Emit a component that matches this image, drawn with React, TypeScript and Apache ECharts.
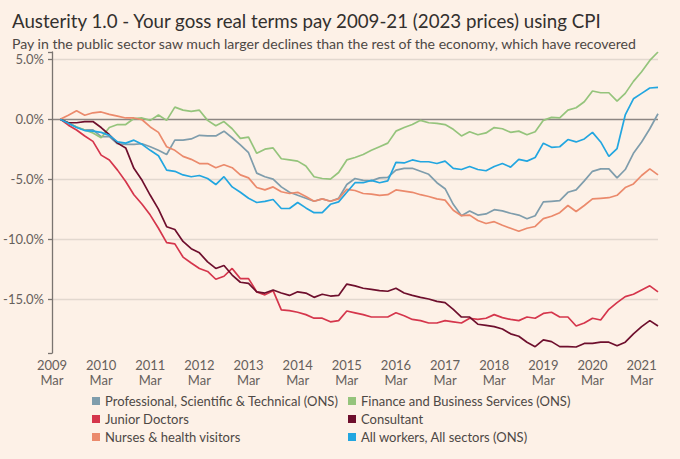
import React, { useEffect, useRef } from "react";
import * as echarts from "echarts";

// Bi-monthly periods starting 2009 Mar (index 0) to 2021 Jul (index 74)
const MONTH_NAMES = ["Mar", "May", "Jul", "Sep", "Nov", "Jan"];
const START_YEAR = 2009;
const N_PERIODS = 75;
const periods: string[] = [];
for (let i = 0; i < N_PERIODS; i++) {
  const m = MONTH_NAMES[i % 6];
  const y = START_YEAR + Math.floor(i / 6) + (m === "Jan" ? 1 : 0);
  periods.push(y + "\n" + m);
}

const professional = [
  null, 0, -0.35, -0.65, -0.9, -0.9, -1.45, -1.45, -2.05, -2.1, -2.1, -2.05, -2.3, -2.6, -2.95,
  -1.75, -1.75, -1.65, -1.35, -1.4, -1.4, -1.0, -1.55, -2.15, -2.8, -4.5, -4.8, -5.0, -5.65, -6.1,
  -6.35, -6.6, -6.85, -6.65, -6.85, -6.6, -5.45, -4.95, -5.1, -5.15, -4.9, -4.85, -4.25, -4.1, -4.1,
  -4.35, -4.6, -5.3, -5.8, -7.1, -8.05, -7.65, -8.0, -7.9, -7.55, -7.65, -7.85, -8.0, -8.3, -8.05,
  -6.9, -6.85, -6.8, -6.1, -5.9, -5.15, -4.35, -4.15, -4.15, -4.9, -4.2, -2.85, -1.9, -0.8, 0.45,
];
const finance = [
  null, 0, -0.3, -0.65, -0.9, -1.15, -1.55, -0.7, -0.45, -0.45, 0.05, 0.1, -0.1, 0.35, -0.1,
  1.0, 0.75, 0.65, 0.75, -0.1, -0.55, -0.2, -0.8, -1.6, -1.5, -2.85, -2.5, -2.4, -3.3, -3.4,
  -3.5, -3.9, -4.8, -4.95, -5.0, -4.45, -3.4, -3.2, -2.95, -2.6, -2.3, -2.0, -1.0, -0.7, -0.45,
  -0.1, -0.3, -0.35, -0.45, -0.85, -1.4, -1.05, -1.3, -1.15, -0.7, -0.8, -1.1, -1.0, -1.3, -1.05,
  -0.1, 0.15, 0.1, 0.75, 0.95, 1.45, 2.35, 2.2, 2.2, 1.5, 2.15, 3.15, 3.95, 4.9, 5.6,
];
const juniorDoctors = [
  null, 0, -0.5, -0.9, -1.4, -1.85, -3.0, -3.4, -4.25, -5.2, -6.3, -7.1, -8.0, -9.1, -10.3,
  -10.4, -11.5, -12.0, -12.45, -12.7, -13.35, -13.1, -12.45, -13.3, -13.3, -14.4, -14.65, -14.3, -15.9, -15.97,
  -16.1, -16.3, -16.6, -16.6, -16.9, -16.8, -16.0, -16.15, -16.3, -16.5, -16.5, -16.5, -16.15, -16.4, -16.7,
  -16.8, -17.0, -17.0, -16.8, -16.9, -17.0, -16.6, -16.7, -16.6, -16.3, -16.55, -16.7, -16.8, -16.5, -16.6,
  -16.2, -16.1, -16.5, -16.5, -17.25, -17.0, -16.6, -16.75, -15.86, -15.3, -14.8, -14.6, -14.25, -13.9, -14.4,
];
const consultant = [
  null, 0, -0.3, -0.3, -0.2, -0.2, -0.7, -1.3, -2.0, -2.4, -4.1, -5.1, -6.35, -7.5, -8.97,
  -9.2, -10.2, -10.8, -11.15, -11.9, -12.45, -12.2, -13.0, -13.6, -13.7, -14.4, -14.5, -14.25, -14.5, -14.7,
  -14.4, -14.5, -14.86, -14.6, -14.75, -14.7, -13.75, -13.9, -14.1, -14.2, -14.3, -14.35, -14.1, -14.5, -14.7,
  -14.86, -15.0, -15.2, -15.3, -15.86, -16.5, -16.5, -17.1, -17.2, -17.3, -17.5, -17.9, -18.1, -18.6, -18.97,
  -18.4, -18.55, -18.97, -18.97, -19.0, -18.7, -18.7, -18.6, -18.6, -18.9, -18.6, -17.9, -17.3, -16.8, -17.25,
];
const nurses = [
  null, 0, 0.33, 0.7, 0.33, 0.53, 0.6, 0.4, 0.25, 0.1, 0.1, -0.05, -0.65, -1.1, -2.3,
  -2.6, -3.1, -3.35, -3.7, -3.7, -4.05, -3.8, -4.05, -4.65, -4.9, -5.7, -5.9, -5.65, -6.05, -6.2,
  -6.1, -6.45, -6.85, -6.65, -6.85, -6.65, -5.85, -5.95, -6.2, -6.25, -6.35, -6.3, -5.9, -6.0, -6.1,
  -6.3, -6.45, -6.65, -6.75, -7.6, -8.05, -8.0, -8.45, -8.7, -8.55, -8.85, -9.1, -9.35, -9.1, -8.95,
  -8.3, -8.1, -7.8, -7.2, -7.7, -7.2, -6.65, -6.6, -6.55, -6.35, -5.7, -5.4, -4.7, -4.15, -4.65,
];
const allWorkers = [
  null, 0, -0.35, -0.7, -0.95, -1.0, -1.1, -1.35, -1.9, -2.0, -1.75, -2.1, -2.6, -3.05, -4.25,
  -4.35, -4.65, -4.8, -4.7, -4.95, -5.45, -4.8, -5.65, -6.1, -6.6, -6.95, -6.85, -6.7, -7.45, -7.45,
  -6.95, -7.4, -7.8, -7.8, -7.1, -6.9, -6.1, -5.3, -5.3, -5.1, -5.3, -5.15, -3.6, -3.65, -3.4,
  -3.55, -3.55, -3.7, -3.5, -4.1, -4.2, -3.95, -4.2, -4.3, -3.95, -3.7, -4.0, -3.35, -3.5, -3.2,
  -2.0, -2.35, -2.3, -1.7, -1.9, -1.65, -1.1, -1.9, -3.1, -2.45, 0.35, 1.7, 2.15, 2.6, 2.65,
];

const SERIES_NAMES = [
  "Professional, Scientific & Technical (ONS)",
  "Finance and Business Services (ONS)",
  "Junior Doctors",
  "Consultant",
  "Nurses & health visitors",
  "All workers, All sectors (ONS)",
];
const SERIES_DATA = [professional, finance, juniorDoctors, consultant, nurses, allWorkers];
const SERIES_COLORS = ["#7f9dac", "#95c47c", "#d5364c", "#6e0f2d", "#eb8a6c", "#22a6e0"];

const TITLE = "Austerity 1.0 - Your goss real terms pay 2009-21 (2023 prices) using CPI";
const SUBTITLE =
  "Pay in the public sector saw much larger declines than the rest of the economy, which have recovered";

const FONT = "Lato, 'Noto Sans', sans-serif";

export default function App() {
  const ref = useRef<HTMLDivElement>(null);
  useEffect(() => {
    if (!ref.current) return;
    const chart = echarts.init(ref.current, undefined, { renderer: "svg" });
    const legendText = { fontFamily: FONT, fontSize: 13, color: "#4d4845", lineHeight: 16 };
    chart.setOption({
      animation: false,
      backgroundColor: "#fdf1e7",
      textStyle: { fontFamily: FONT },
      title: [
        {
          text: TITLE,
          left: 7,
          top: 6,
          textStyle: { fontFamily: FONT, fontSize: 18.7, fontWeight: "normal", color: "#33302e" },
        },
        {
          text: SUBTITLE,
          left: 7,
          top: 31,
          textStyle: { fontFamily: FONT, fontSize: 14.1, fontWeight: "normal", color: "#4d4845" },
        },
      ],
      legend: [
        {
          orient: "vertical",
          left: 92,
          top: 393,
          padding: 0,
          icon: "rect",
          itemWidth: 8,
          itemHeight: 8,
          itemGap: 2,
          data: [SERIES_NAMES[0], SERIES_NAMES[2], SERIES_NAMES[4]],
          textStyle: legendText,
        },
        {
          orient: "vertical",
          left: 348,
          top: 393,
          padding: 0,
          icon: "rect",
          itemWidth: 8,
          itemHeight: 8,
          itemGap: 2,
          data: [SERIES_NAMES[1], SERIES_NAMES[3], SERIES_NAMES[5]],
          textStyle: legendText,
        },
      ],
      grid: { left: 52, right: 22, top: 52, bottom: 106, containLabel: false },
      xAxis: {
        type: "category",
        data: periods,
        boundaryGap: false,
        axisLine: { show: false },
        axisTick: { show: false },
        splitLine: { show: false },
        axisLabel: {
          interval: 5,
          margin: 4,
          fontFamily: FONT,
          fontSize: 13,
          lineHeight: 15,
          color: "#66605c",
        },
      },
      yAxis: {
        type: "value",
        min: -19.5,
        max: 5.6,
        splitNumber: 5,
        axisLine: { show: true, lineStyle: { color: "#7a7470", width: 1.3 } },
        axisTick: { show: true, length: 4, lineStyle: { color: "#7a7470", width: 1.3 } },
        axisLabel: {
          margin: 8,
          fontFamily: FONT,
          fontSize: 13,
          color: "#66605c",
          formatter: (v: number) => (Math.abs(v / 5 - Math.round(v / 5)) < 1e-9 ? v.toFixed(1) + "%" : ""),
        },
        splitLine: {
          show: true,
          showMinLine: false,
          showMaxLine: false,
          lineStyle: {
            color: ["#e2d8cf", "#e2d8cf", "#e2d8cf", "#8d8682", "#e2d8cf"],
            width: 1.3,
          },
        },
      },
      series: SERIES_NAMES.map((name, i) => ({
        name,
        type: "line",
        data: SERIES_DATA[i],
        symbol: "none",
        connectNulls: false,
        lineStyle: { color: SERIES_COLORS[i], width: 1.7 },
        itemStyle: { color: SERIES_COLORS[i] },
        z: 2 + i,
      })),
    });
    return () => chart.dispose();
  }, []);
  return (
    <div
      ref={ref}
      style={{ position: "fixed", left: 0, top: 0, width: 680, height: 459 }}
    />
  );
}
